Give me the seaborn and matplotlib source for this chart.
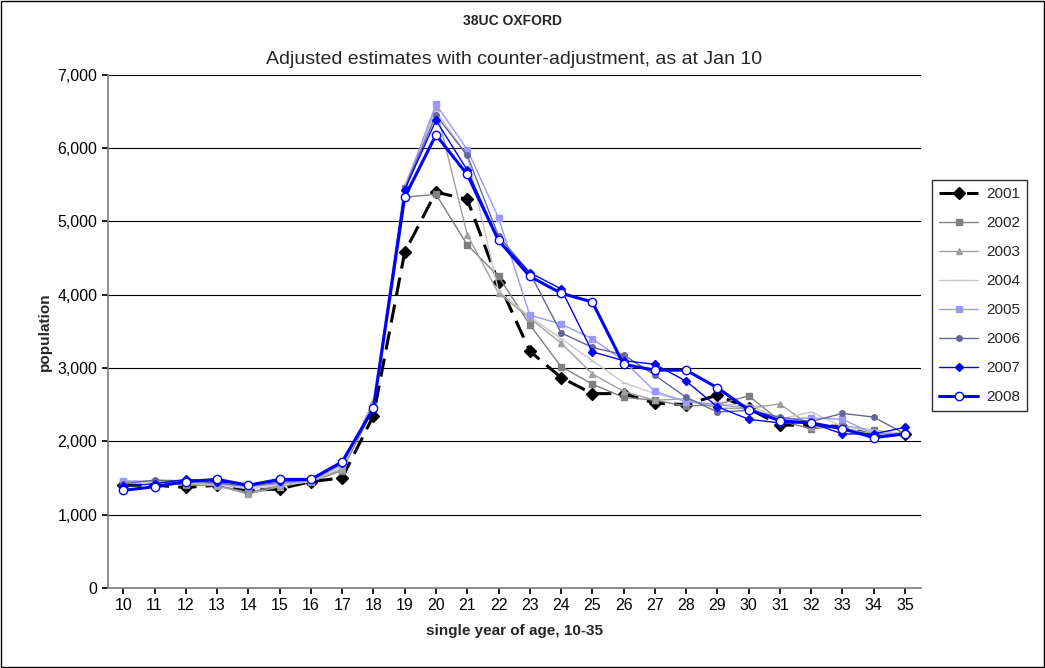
import matplotlib
matplotlib.use("Agg")
import matplotlib.pyplot as plt
import seaborn as sns
import pandas as pd

sns.set_theme(style="white")
plt.rcParams['font.family'] = ['Liberation Sans', 'DejaVu Sans']

ages = list(range(10, 36))
s2001 = [1400, 1400, 1370, 1400, 1330, 1350, 1450, 1500, 2350, 4580, 5400, 5300, 4170, 3230, 2870, 2650, 2650, 2520, 2500, 2630, 2450, 2220, 2220, 2200, 2080, 2100]
s2002 = [1450, 1450, 1400, 1400, 1300, 1400, 1450, 1600, 2450, 5330, 5370, 4680, 4250, 3590, 3020, 2780, 2600, 2560, 2480, 2500, 2620, 2280, 2170, 2210, 2150, 2100]
s2003 = [1430, 1460, 1420, 1390, 1280, 1380, 1460, 1620, 2550, 5430, 6550, 4820, 4020, 3680, 3340, 2920, 2680, 2560, 2580, 2450, 2450, 2510, 2200, 2180, 2100, 2100]
s2004 = [1440, 1440, 1430, 1410, 1350, 1400, 1450, 1640, 2500, 5500, 6500, 5900, 4050, 3700, 3400, 3100, 2800, 2650, 2550, 2500, 2500, 2300, 2400, 2200, 2150, 2100]
s2005 = [1460, 1450, 1440, 1420, 1380, 1420, 1460, 1680, 2480, 5450, 6600, 5980, 5050, 3720, 3600, 3400, 3100, 2680, 2540, 2500, 2450, 2300, 2320, 2300, 2100, 2100]
s2006 = [1420, 1470, 1460, 1430, 1390, 1440, 1470, 1700, 2470, 5450, 6450, 5900, 4800, 4300, 3480, 3280, 3180, 2900, 2600, 2400, 2420, 2330, 2270, 2380, 2330, 2100]
s2007 = [1390, 1420, 1480, 1450, 1410, 1460, 1480, 1710, 2440, 5430, 6380, 5700, 4750, 4300, 4080, 3220, 3100, 3050, 2820, 2470, 2300, 2250, 2250, 2100, 2100, 2190]
s2008 = [1330, 1380, 1450, 1480, 1400, 1480, 1480, 1720, 2450, 5330, 6180, 5640, 4740, 4250, 4020, 3900, 3050, 2970, 2970, 2730, 2430, 2280, 2250, 2170, 2050, 2100]

series = {"2001": s2001, "2002": s2002, "2003": s2003, "2004": s2004,
          "2005": s2005, "2006": s2006, "2007": s2007, "2008": s2008}
styles = {
    "2001": dict(color="black", marker="D", lw=2.2, ls=(0, (6, 3)), ms=6, mfc="black"),
    "2002": dict(color="#808080", marker="s", lw=1, ls="-", ms=4, mfc="#808080"),
    "2003": dict(color="#a0a0a0", marker="^", lw=1, ls="-", ms=5, mfc="#a0a0a0"),
    "2004": dict(color="#c8c8c8", marker="_", lw=1, ls="-", ms=5, mfc="#c8c8c8"),
    "2005": dict(color="#9999ff", marker="s", lw=1, ls="-", ms=4, mfc="#9999ff"),
    "2006": dict(color="#666699", marker="o", lw=1, ls="-", ms=4, mfc="#666699"),
    "2007": dict(color="#0000ff", marker="D", lw=1, ls="-", ms=4, mfc="#0000ff"),
    "2008": dict(color="#0000ff", marker="o", lw=2.2, ls="-", ms=6, mfc="white"),
}

df = pd.DataFrame([(a, y, v) for y, vals in series.items() for a, v in zip(ages, vals)],
                  columns=["age", "year", "pop"])

fig = plt.figure(figsize=(10.45, 6.68), dpi=100)
ax = fig.add_axes([0.103, 0.12, 0.778, 0.768])
for y in series:
    st = styles[y]
    sns.lineplot(data=df[df.year == y], x="age", y="pop", ax=ax, label=y,
                 color=st["color"], marker=st["marker"], linewidth=st["lw"],
                 linestyle=st["ls"], markersize=st["ms"], markerfacecolor=st["mfc"],
                 markeredgecolor=st["color"], markeredgewidth=1)

ax.set_xlim(9.5, 35.5)
ax.set_ylim(0, 7000)
ax.set_xticks(ages)
ax.set_yticks(range(0, 7001, 1000))
ax.set_yticklabels([f"{v:,}" for v in range(0, 7001, 1000)])
ax.tick_params(labelsize=11.5, colors="black", length=4, direction="out", bottom=True, left=True)
ax.grid(axis="y", color="black", linewidth=0.8)
for side in ["top", "right"]:
    ax.spines[side].set_visible(False)
for side in ["left", "bottom"]:
    ax.spines[side].set_color("#808080")
ax.set_xlabel("single year of age, 10-35", fontsize=11, fontweight="bold", labelpad=8)
ax.set_ylabel("population", fontsize=11, fontweight="bold")
ax.set_title("Adjusted estimates with counter-adjustment, as at Jan 10", fontsize=14, pad=8)
fig.text(0.49, 0.962, "38UC OXFORD", ha="center", fontsize=10, fontweight="bold")

leg = ax.legend(loc="upper left", bbox_to_anchor=(1.01, 0.80), frameon=True,
                fancybox=False, edgecolor="black", fontsize=11, handlelength=2.6,
                handletextpad=0.5, labelspacing=0.98, borderpad=0.45, borderaxespad=0.2)
leg.get_frame().set_linewidth(1)

fig.patches.append(plt.Rectangle((0.001, 0.001), 0.998, 0.997, transform=fig.transFigure,
                                 fill=False, edgecolor="black", linewidth=1))
fig.savefig("out.png", dpi=100)
